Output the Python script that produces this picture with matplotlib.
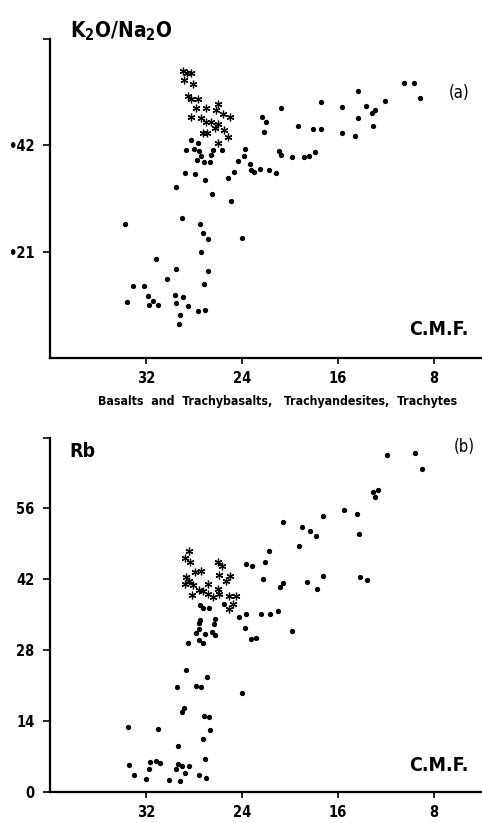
import numpy as np
import matplotlib
matplotlib.use("Agg")
import matplotlib.pyplot as plt

plt.rcParams['font.family'] = ['DejaVu Sans']
plt.rcParams['font.stretch'] = 'condensed'

# (a) K2O/Na2O against C.M.F. -- plain samples
a_dot_x = [33.72, 33.58, 33.08, 32.19, 31.81, 31.72, 31.39, 31.03, 31.19, 30.25,
           29.50, 29.61, 29.50, 28.89, 28.47, 29.17, 29.28, 27.69, 27.06, 27.14,
           26.81, 27.39, 27.25, 26.86, 27.47, 29.03, 29.47, 28.78, 27.94, 27.08,
           26.50, 25.17, 24.89, 23.97, 24.67, 24.33, 23.81, 23.72, 23.36, 23.28,
           22.97, 22.50, 21.72, 21.14, 20.94, 20.78, 19.86, 18.86, 18.42, 17.89,
           22.14, 22.36, 22.00, 20.75, 19.31, 18.08, 17.39, 17.39, 15.69, 15.67,
           14.58, 14.36, 14.36, 13.69, 13.17, 12.89, 13.06, 12.11, 10.47, 9.64,
           9.17, 28.67, 28.28, 28.03, 27.64, 27.56, 27.72, 27.39, 27.19, 26.42,
           26.56, 26.64, 25.67]
a_dot_y = [.265, .110, .142, .142, .123, .104, .113, .105, .195, .156,
           .176, .125, .108, .120, .102, .085, .067, .093, .094, .146,
           .171, .209, .247, .235, .264, .276, .338, .366, .364, .352,
           .324, .356, .310, .237, .368, .390, .399, .412, .383, .371,
           .367, .373, .371, .366, .409, .400, .397, .397, .398, .406,
           .446, .476, .467, .493, .459, .452, .453, .506, .495, .444,
           .438, .474, .528, .498, .483, .490, .459, .507, .543, .543,
           .514, .410, .430, .412, .424, .409, .392, .398, .387, .410,
           .400, .387, .411]

# (a) asterisk samples
a_ast_x = [28.94, 28.57, 28.24, 28.80, 28.11, 28.47, 28.24, 27.63, 27.82, 26.99,
           26.02, 26.15, 25.60, 25.04, 28.24, 27.41, 26.99, 26.57, 26.02, 26.29,
           25.52, 27.27, 26.90, 25.18, 25.96]
a_ast_y = [.566, .563, .563, .550, .541, .518, .512, .512, .494, .494,
           .501, .489, .481, .476, .476, .474, .466, .466, .463, .454,
           .451, .445, .445, .436, .425]

# (b) Rb against C.M.F. -- plain samples
b_dot_x = [33.48, 33.40, 33.04, 32.03, 31.78, 31.64, 31.20, 30.81, 30.97, 30.11,
           29.49, 29.36, 28.99, 28.77, 29.16, 28.38, 27.55, 26.99, 27.05, 27.21,
           26.63, 27.13, 26.71, 29.30, 28.99, 28.80, 29.41, 27.82, 27.38, 28.66,
           26.90, 23.98, 28.49, 27.60, 27.21, 27.82, 27.10, 27.60, 27.55, 27.46,
           26.52, 26.21, 26.35, 26.24, 27.49, 27.21, 26.71, 25.54, 24.26, 23.70,
           23.76, 23.29, 22.81, 22.45, 21.67, 21.00, 19.80, 23.65, 23.15, 22.26,
           22.12, 21.78, 20.81, 20.59, 20.59, 19.22, 18.97, 18.36, 17.86, 18.55,
           17.71, 17.21, 17.25, 15.46, 14.41, 14.21, 14.18, 13.57, 13.12, 12.70,
           12.90, 11.92, 9.56, 9.00]
b_dot_y = [12.7, 5.3, 3.3, 2.5, 4.5, 5.9, 6.1, 5.6, 12.4, 2.4,
           4.5, 5.5, 5.1, 3.7, 2.2, 5.1, 3.3, 2.8, 6.5, 10.5,
           12.2, 15.0, 14.7, 9.0, 15.8, 16.6, 20.8, 21.0, 20.7, 24.0,
           22.6, 19.6, 29.5, 29.9, 29.5, 31.3, 31.2, 32.2, 33.3, 33.9,
           31.6, 30.9, 33.1, 34.1, 37.0, 36.4, 36.4, 37.2, 34.6, 35.2,
           32.4, 30.1, 30.4, 35.2, 35.2, 35.8, 31.7, 45.0, 44.6, 42.1,
           45.4, 47.5, 40.4, 41.2, 53.4, 48.6, 52.3, 51.6, 50.6, 41.4,
           40.0, 42.6, 54.5, 55.7, 55.0, 51.0, 42.4, 41.9, 59.2, 59.6,
           58.3, 66.5, 67.0, 63.8]

# (b) asterisk samples
b_ast_x = [28.44, 28.72, 28.32, 27.41, 27.88, 28.66, 28.38, 28.72, 28.11, 28.16,
           27.55, 27.21, 26.80, 26.85, 26.44, 26.02, 25.88, 25.96, 25.65, 25.88,
           24.98, 25.32, 25.10, 24.54, 24.77, 25.10]
b_ast_y = [47.5, 46.3, 45.5, 43.6, 43.4, 42.4, 41.7, 41.1, 40.9, 38.8,
           39.8, 39.6, 41.0, 39.1, 38.5, 40.1, 39.1, 45.5, 44.6, 42.9,
           42.6, 41.7, 38.6, 38.6, 37.2, 36.2]

x_ticks = [32, 24, 16, 8]
a_yticks = [0.21, 0.42, 0.63]
a_ylabels = ['\u202221', '\u202242', '']
b_yticks = [0, 14, 28, 42, 56, 70]
b_ylabels = ['0', '14', '28', '42', '56', '']

fig = plt.figure(figsize=(4.82, 8.23), dpi=100)
ax1 = fig.add_axes([50 / 482, 0.565, 432 / 482, 0.3876])
ax2 = fig.add_axes([50 / 482, 0.038, 432 / 482, 0.4302])

ast = (6, 2, 0)


def style(ax, ymax, yt, yl, cmf_y):
    ax.set_xlim(40, 4)
    ax.set_ylim(0, ymax)
    for s in ['top', 'right']:
        ax.spines[s].set_visible(False)
    for s in ['left', 'bottom']:
        ax.spines[s].set_linewidth(1.6)
    ax.set_xticks(x_ticks)
    ax.set_xticklabels([str(t) for t in x_ticks], fontsize=10.5, fontweight='bold')
    ax.set_yticks(yt)
    ax.set_yticklabels(yl, fontsize=10.5, fontweight='bold')
    ax.tick_params(axis='x', length=4, width=1.2, pad=5.5)
    ax.tick_params(axis='y', length=5, width=1.2, pad=6)
    ax.text(0.968, cmf_y, 'C.M.F.', transform=ax.transAxes, ha='right', va='center',
            fontsize=14, fontweight='bold')


ax1.plot(a_dot_x, a_dot_y, 'o', color='black', markersize=2.8, clip_on=False)
ax1.plot(a_ast_x, a_ast_y, marker=ast, linestyle='none', color='black',
         markersize=5.5, markeredgewidth=0.9)
style(ax1, 0.63, a_yticks, a_ylabels, 0.088)
fig.text(70 / 482, 1 - 31 / 823, r'K$_{\bf 2}$O/Na$_{\bf 2}$O', ha='left', va='center',
         fontsize=15, fontweight='bold')
ax1.text(0.972, 0.83, '(a)', transform=ax1.transAxes, ha='right', va='center',
         fontsize=12)
fig.text(0.575, 1 - 402 / 823,
         'Basalts  and  Trachybasalts,   Trachyandesites,  Trachytes',
         ha='center', va='center', fontsize=8.8, fontweight='bold')

ax2.plot(b_dot_x, b_dot_y, 'o', color='black', markersize=2.8, clip_on=False)
ax2.plot(b_ast_x, b_ast_y, marker=ast, linestyle='none', color='black',
         markersize=5.5, markeredgewidth=0.9)
style(ax2, 70, b_yticks, b_ylabels, 0.075)
ax2.text(0.045, 0.96, 'Rb', transform=ax2.transAxes, ha='left', va='center',
         fontsize=14, fontweight='bold')
ax2.text(0.984, 0.975, '(b)', transform=ax2.transAxes, ha='right', va='center',
         fontsize=12)

fig.savefig('out.png', dpi=100)
